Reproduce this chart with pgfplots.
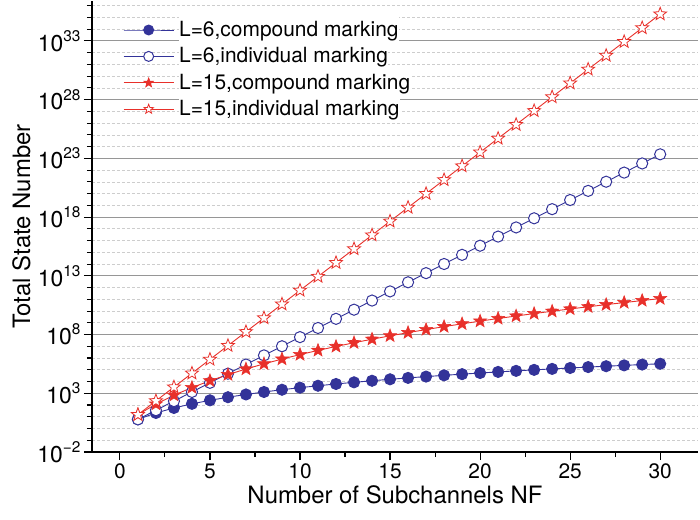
\documentclass[border=0pt]{standalone}
\usepackage{pgfplots}
\pgfplotsset{compat=1.18}
\usepackage{fontspec}
\setmainfont{TeX Gyre Heros}

\definecolor{cblue}{RGB}{51,51,153}
\definecolor{cred}{RGB}{232,48,42}
\definecolor{majgrid}{RGB}{150,150,150}
\definecolor{mingrid}{RGB}{205,205,205}

% filled five-pointed star
\pgfdeclareplotmark{star5}{%
  \pgfpathmoveto{\pgfpointpolar{90}{\pgfplotmarksize}}%
  \pgfpathlineto{\pgfpointpolar{126}{0.42\pgfplotmarksize}}%
  \pgfpathlineto{\pgfpointpolar{162}{\pgfplotmarksize}}%
  \pgfpathlineto{\pgfpointpolar{198}{0.42\pgfplotmarksize}}%
  \pgfpathlineto{\pgfpointpolar{234}{\pgfplotmarksize}}%
  \pgfpathlineto{\pgfpointpolar{270}{0.42\pgfplotmarksize}}%
  \pgfpathlineto{\pgfpointpolar{306}{\pgfplotmarksize}}%
  \pgfpathlineto{\pgfpointpolar{342}{0.42\pgfplotmarksize}}%
  \pgfpathlineto{\pgfpointpolar{18}{\pgfplotmarksize}}%
  \pgfpathlineto{\pgfpointpolar{54}{0.42\pgfplotmarksize}}%
  \pgfpathclose
  \pgfusepathqfillstroke
}

\newcommand\tp[1]{10\raisebox{0.43em}{\fontsize{15.5}{16}\selectfont #1}}

\begin{document}
\begin{tikzpicture}
\begin{axis}[
  at={(0,0)}, anchor=south west, scale only axis,
  width=606bp, height=451bp,
  xmin=-1.55, xmax=32.1,
  ymode=log, ymin=1e-2, ymax=2.5e36,
  axis lines*=left,
  axis line style={black, line width=1.1bp},
  xtick={0,5,...,30},
  minor xtick={2.5,7.5,...,27.5},
  ytick={1e-2,1e3,1e8,1e13,1e18,1e23,1e28,1e33},
  yticklabels={\tp{−2},\tp{3},\tp{8},\tp{13},\tp{18},\tp{23},\tp{28},\tp{33}},
  minor ytick={1e-1,1,1e1,1e2,1e4,1e5,1e6,1e7,1e9,1e10,1e11,1e12,1e14,1e15,1e16,1e17,
               1e19,1e20,1e21,1e22,1e24,1e25,1e26,1e27,1e29,1e30,1e31,1e32,1e34,1e35,1e36},
  ymajorgrids, yminorgrids,
  major grid style={majgrid, line width=0.9bp, solid},
  minor grid style={mingrid, line width=0.7bp, dash pattern=on 3bp off 2bp},
  tick align=outside,
  major tick length=8bp, minor tick length=5bp,
  every tick/.style={black, line width=1.1bp},
  /pgf/number format/assume math mode=true,
  xticklabel style={font=\fontsize{21}{24}\selectfont},
  yticklabel style={font=\fontsize{23}{26}\selectfont},
  xlabel={Number of Subchannels NF},
  ylabel={Total State Number},
  label style={font=\fontsize{24}{28}\selectfont},
  legend style={at={(0.0512,0.9654)}, anchor=north west, draw=none, fill=none,
    inner sep=0bp, row sep=0bp,
    font=\fontsize{21}{25}\selectfont,
    /tikz/every odd column/.append style={column sep=5bp},
    /tikz/every even column/.append style={nodes={fill=white, inner sep=0bp,
      text height=19.4bp, text depth=7bp}}},
  legend cell align=left,
  legend image code/.code={%
    \draw[mark repeat=2, mark phase=2, mark size=5bp] plot coordinates {(0bp,0bp) (25bp,0bp) (50bp,0bp)};},
]
\addplot[cblue, line width=0.9bp, mark=*, mark size=5.6bp, mark options={fill=cblue, draw=cblue, solid}]
  coordinates {
  (1,6) (2,21) (3,56) (4,126) (5,252) (6,462) (7,792) (8,1287) (9,2002) (10,3003)
  (11,4368) (12,6188) (13,8568) (14,11628) (15,15504) (16,20349) (17,26334) (18,33649)
  (19,42504) (20,53130) (21,65780) (22,80730) (23,98280) (24,118755) (25,142506)
  (26,169911) (27,201376) (28,237336) (29,278256) (30,324632)};
\addlegendentry{L=6,compound marking}

\addplot[cblue, line width=0.9bp, mark=*, mark size=5.6bp, mark options={fill=white, draw=cblue, line width=1bp}]
  coordinates {
  (1,6) (2,36) (3,216) (4,1296) (5,7776) (6,46656) (7,279936) (8,1679616)
  (9,1.0077696e7) (10,6.0466176e7) (11,3.62797056e8) (12,2.176782336e9)
  (13,1.3060694016e10) (14,7.8364164096e10) (15,4.70184984576e11) (16,2.821109907456e12)
  (17,1.6926659444736e13) (18,1.01559956668416e14) (19,6.0935974001e14) (20,3.65615844e15)
  (21,2.19369506e16) (22,1.31621704e17) (23,7.89730223e17) (24,4.73838134e18)
  (25,2.84302880e19) (26,1.70581728e20) (27,1.02349037e21) (28,6.14094221e21)
  (29,3.68456533e22) (30,2.21073920e23)};
\addlegendentry{L=6,individual marking}

\addplot[cred, line width=0.9bp, mark=star5, mark size=6.8bp, mark options={fill=cred, draw=cred, line width=0.6bp}]
  coordinates {
  (1,15) (2,120) (3,680) (4,3060) (5,11628) (6,38760) (7,116280) (8,319770) (9,817190)
  (10,1961256) (11,4457400) (12,9657700) (13,20058300) (14,40116600) (15,77558760)
  (16,145422675) (17,265182525) (18,471435600) (19,818809200) (20,1391975640)
  (21,2319959400) (22,3796297200) (23,6107086800) (24,9669554100) (25,15084504396)
  (26,23206929840) (27,35240152720) (28,52860229080) (29,78378960360) (30,114955808528)};
\addlegendentry{L=15,compound marking}

\addplot[cred, line width=0.9bp, mark=star5, mark size=6.8bp, mark options={fill=white, draw=cred, line width=0.8bp}]
  coordinates {
  (1,15) (2,225) (3,3375) (4,50625) (5,759375) (6,11390625) (7,170859375) (8,2562890625)
  (9,3.8443359375e10) (10,5.76650390625e11) (11,8.6497558594e12) (12,1.2974633789e14)
  (13,1.9461950684e15) (14,2.9192926025e16) (15,4.3789389038e17) (16,6.5684083557e18)
  (17,9.8526125336e19) (18,1.4778918800e21) (19,2.2168378200e22) (20,3.3252567300e23)
  (21,4.9878850950e24) (22,7.4818276425e25) (23,1.1222741464e27) (24,1.6834112196e28)
  (25,2.5251168294e29) (26,3.7876752441e30) (27,5.6815128661e31) (28,8.5222692992e32)
  (29,1.2783403949e34) (30,1.9175105923e35)};
\addlegendentry{L=15,individual marking}
\end{axis}
\path[use as bounding box] (-92bp,-68bp) rectangle (608bp,452bp);
\end{tikzpicture}
\end{document}
